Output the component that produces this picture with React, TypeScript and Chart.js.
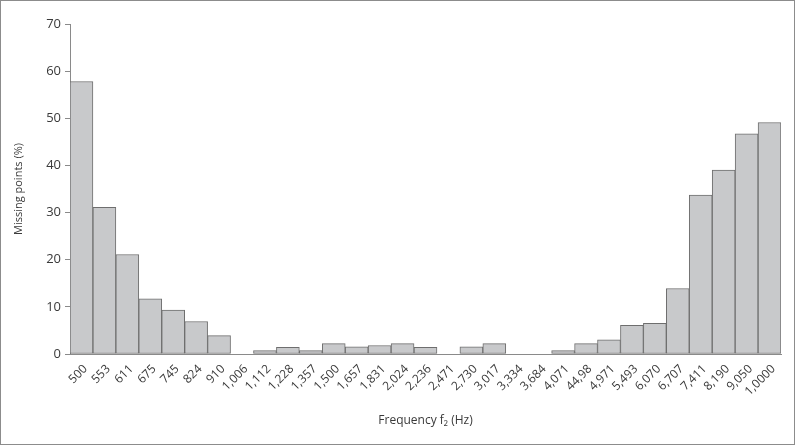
import React, { useEffect, useRef } from "react";
import { Chart, registerables } from "chart.js";

Chart.register(...registerables);

const categories = [
  "500", "553", "611", "675", "745", "824", "910", "1,006", "1,112", "1,228", "1,357",
  "1,500", "1,657", "1,831", "2,024", "2,236", "2,471", "2,730", "3,017", "3,334", "3,684",
  "4,071", "44,98", "4,971", "5,493", "6,070", "6,707", "7,411", "8,190", "9,050", "1,0000",
];

const missingPoints = [
  57.8, 31.1, 21.1, 11.7, 9.3, 6.9, 3.9, 0, 0.7, 1.4, 0.7,
  2.2, 1.5, 1.8, 2.2, 1.4, 0, 1.5, 2.2, 0, 0,
  0.7, 2.2, 3.0, 6.1, 6.5, 13.9, 33.7, 39.0, 46.7, 49.1,
];

const yTicks = [0, 10, 20, 30, 40, 50, 60, 70];

export default function App() {
  const canvasRef = useRef<HTMLCanvasElement | null>(null);

  useEffect(() => {
    document.body.style.margin = "0";
    const canvas = canvasRef.current;
    if (!canvas) return;
    Chart.defaults.font.family = "'Open Sans', 'DejaVu Sans', sans-serif";
    const chart = new Chart(canvas, {
      type: "bar",
      data: {
        labels: categories,
        datasets: [
          {
            data: missingPoints,
            backgroundColor: "#c8c9cb",
            borderColor: "#6e6e6e",
            borderWidth: 1,
            borderSkipped: false,
            barPercentage: 1,
            categoryPercentage: 1,
          },
        ],
      },
      options: {
        responsive: false,
        animation: false,
        layout: { padding: { left: 0, right: 13, top: 23, bottom: 0 } },
        plugins: { legend: { display: false }, tooltip: { enabled: false } },
        scales: {
          x: {
            grid: { display: false, drawTicks: false },
            border: { display: true, color: "#8a8a8a", width: 1 },
            ticks: {
              minRotation: 45,
              maxRotation: 45,
              autoSkip: false,
              padding: 8,
              labelOffset: 4,
              color: "#3a3a3a",
              font: { size: 12 },
            },
            title: {
              display: true,
              text: "Frequency f\u2082 (Hz)",
              color: "#3a3a3a",
              font: { size: 12 },
              padding: { top: 0, bottom: 16 },
            },
            afterFit: (scale: any) => {
              scale.height = 90;
            },
          },
          y: {
            min: 0,
            max: 70,
            afterBuildTicks: (scale: any) => {
              scale.ticks = yTicks.map((v) => ({ value: v }));
            },
            grid: {
              display: true,
              drawOnChartArea: false,
              drawTicks: true,
              tickLength: 5,
              color: "#8a8a8a",
            },
            border: { display: true, color: "#8a8a8a", width: 1 },
            ticks: {
              padding: 4,
              color: "#3a3a3a",
              font: { size: 13 },
            },
            title: {
              display: true,
              text: "Missing points (%)",
              color: "#3a3a3a",
              font: { size: 11 },
              padding: { top: 11, bottom: 0 },
            },
            afterFit: (scale: any) => {
              scale.width = 69;
            },
          },
        },
      },
    });
    return () => chart.destroy();
  }, []);

  return (
    <div
      style={{
        width: 795,
        height: 445,
        boxSizing: "border-box",
        border: "1px solid #8c8c8c",
        background: "#ffffff",
        position: "relative",
      }}
    >
      <canvas ref={canvasRef} width={793} height={443} style={{ display: "block", width: 793, height: 443 }} />
    </div>
  );
}
